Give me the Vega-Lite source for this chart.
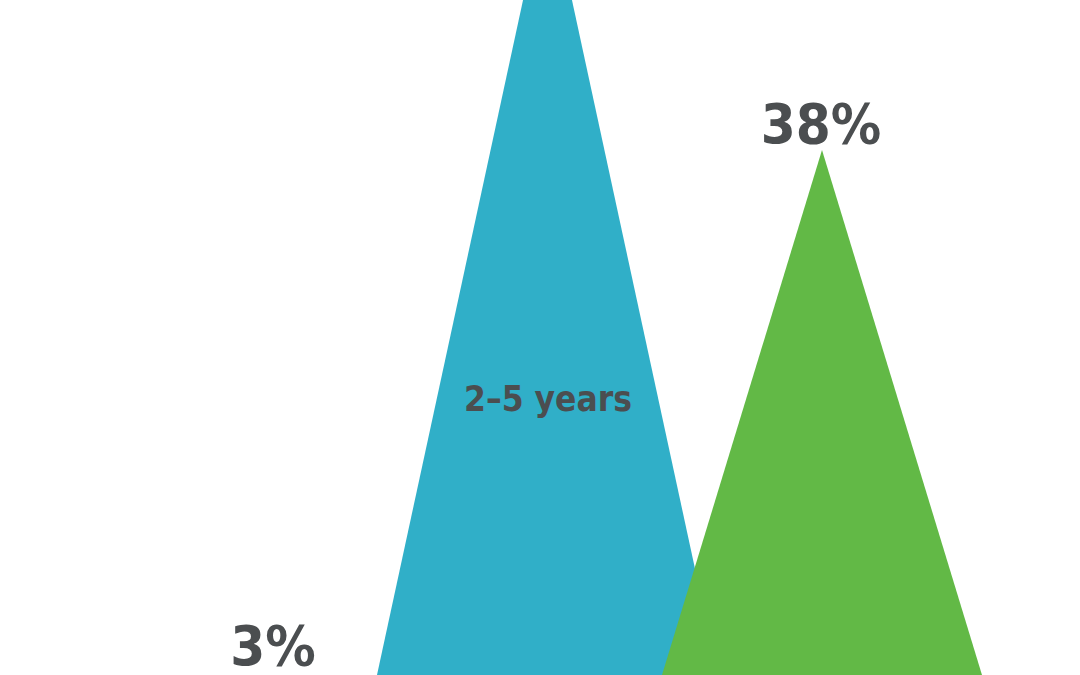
{
  "$schema": "https://vega.github.io/schema/vega-lite/v6.json",
  "width": 1080,
  "height": 675,
  "autosize": {"type": "none"},
  "padding": 0,
  "background": "white",
  "view": {"stroke": null},
  "datasets": {
    "blue": [
      {"x": 377, "top": 675, "base": 675},
      {"x": 547.5, "top": -113, "base": 675},
      {"x": 718, "top": 675, "base": 675}
    ],
    "green": [
      {"x": 662, "top": 675, "base": 675},
      {"x": 822, "top": 150, "base": 675},
      {"x": 982, "top": 675, "base": 675}
    ],
    "labels": [
      {"label": "38%", "x": 821, "y": 143, "kind": "pct"},
      {"label": "2–5 years", "x": 548, "y": 411, "kind": "cat"},
      {"label": "3%", "x": 273, "y": 665, "kind": "pct"}
    ]
  },
  "layer": [
    {
      "data": {"name": "blue"},
      "mark": {"type": "area", "color": "#30afc8", "interpolate": "linear", "orient": "vertical", "clip": true},
      "encoding": {
        "x": {"field": "x", "type": "quantitative", "scale": {"domain": [0, 1080], "nice": false, "zero": false}, "axis": null},
        "y": {"field": "top", "type": "quantitative", "stack": null, "scale": {"domain": [675, 0], "nice": false, "zero": false}, "axis": null},
        "y2": {"field": "base"}
      }
    },
    {
      "data": {"name": "green"},
      "mark": {"type": "area", "color": "#62b946", "interpolate": "linear", "orient": "vertical", "clip": true},
      "encoding": {
        "x": {"field": "x", "type": "quantitative", "scale": {"domain": [0, 1080], "nice": false, "zero": false}, "axis": null},
        "y": {"field": "top", "type": "quantitative", "stack": null, "scale": {"domain": [675, 0], "nice": false, "zero": false}, "axis": null},
        "y2": {"field": "base"}
      }
    },
    {
      "data": {"name": "labels"},
      "mark": {"type": "text", "font": "DejaVu Sans Condensed", "fontWeight": "bold", "baseline": "alphabetic", "align": "center", "color": "#4b4e50"},
      "encoding": {
        "x": {"field": "x", "type": "quantitative", "scale": {"domain": [0, 1080], "nice": false, "zero": false}, "axis": null},
        "y": {"field": "y", "type": "quantitative", "scale": {"domain": [675, 0], "nice": false, "zero": false}, "axis": null},
        "text": {"field": "label"},
        "size": {"field": "kind", "type": "nominal", "scale": {"domain": ["pct", "cat"], "range": [56, 35]}, "legend": null}
      }
    }
  ]
}
